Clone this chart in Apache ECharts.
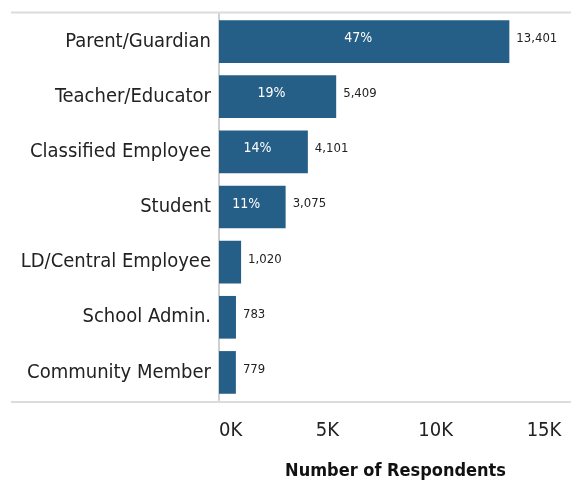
<!DOCTYPE html>
<html>
<head>
<meta charset="utf-8">
<script src="https://cdn.jsdelivr.net/npm/echarts@6/dist/echarts.min.js"></script>
<style>
  html, body { margin: 0; padding: 0; background: #fff; }
  #chart { width: 571px; height: 485px; }
</style>
</head>
<body>
<div id="chart"></div>
<script>
// Survey respondents by role (top to bottom)
const roles = ['Parent/Guardian', 'Teacher/Educator', 'Classified Employee', 'Student',
               'LD/Central Employee', 'School Admin.', 'Community Member'];
const respondents = [13401, 5409, 4101, 3075, 1020, 783, 779];
const shares = ['47%', '19%', '14%', '11%', '', '', ''];
const xTicks = [0, 5000, 10000, 15000];

const FONT = 'DejaVu Sans Condensed, DejaVu Sans, sans-serif';
const BAR = '#255f87';

const chart = echarts.init(document.getElementById('chart'));
chart.setOption({
  animation: false,
  textStyle: { fontFamily: FONT },
  grid: { left: 219, right: 27, top: 14, bottom: 79, containLabel: false },
  graphic: [
    { type: 'line', shape: { x1: 11, y1: 12.5, x2: 571, y2: 12.5 },
      style: { stroke: '#dcdcdc', lineWidth: 2 }, z: 0 },
    { type: 'line', shape: { x1: 11, y1: 402, x2: 571, y2: 402 },
      style: { stroke: '#dcdcdc', lineWidth: 2 }, z: 0 }
  ],
  xAxis: {
    type: 'value',
    min: xTicks[0],
    max: xTicks[xTicks.length - 1],
    interval: 5000,
    splitLine: { show: false },
    axisLine: { show: false },
    axisTick: { show: false },
    axisLabel: {
      margin: 21,
      fontSize: 20,
      color: '#222',
      fontFamily: FONT,
      alignMinLabel: 'left',
      formatter: v => (v / 1000) + 'K'
    },
    name: 'Number of Respondents',
    nameLocation: 'middle',
    nameGap: 62,
    nameTextStyle: { fontSize: 18, fontWeight: 'bold', color: '#111', fontFamily: FONT, padding: [0, 0, 0, 28] }
  },
  yAxis: {
    type: 'category',
    data: roles,
    inverse: true,
    axisLine: { show: true, lineStyle: { color: '#cfcfcf', width: 2 } },
    axisTick: { show: false },
    axisLabel: { margin: 8, fontSize: 20, color: '#222', fontFamily: FONT }
  },
  series: [
    {
      type: 'bar',
      data: respondents,
      barCategoryGap: '22.6%',
      itemStyle: { color: BAR },
      label: {
        show: true,
        position: 'right',
        distance: 7,
        offset: [0, -3],
        fontSize: 13,
        color: '#222',
        fontFamily: FONT,
        formatter: p => p.value.toLocaleString('en-US')
      }
    },
    {
      type: 'bar',
      data: respondents,
      barGap: '-100%',
      barCategoryGap: '22.6%',
      silent: true,
      itemStyle: { color: 'rgba(0,0,0,0)' },
      label: {
        show: true,
        position: 'inside',
        offset: [-6, -3],
        fontSize: 14,
        color: '#fff',
        fontFamily: FONT,
        formatter: p => shares[p.dataIndex]
      }
    }
  ]
});
</script>
</body>
</html>
